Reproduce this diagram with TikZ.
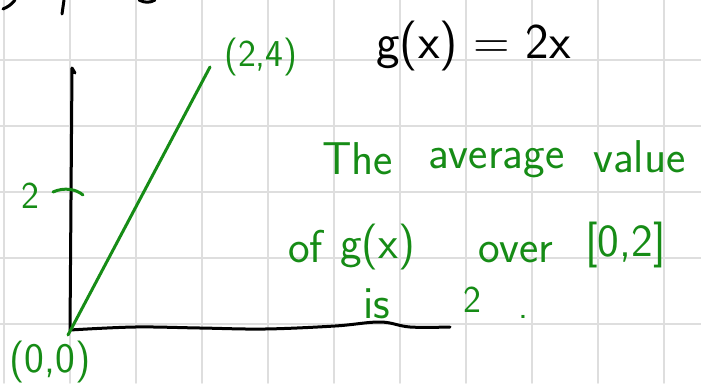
\documentclass[tikz,border=0pt]{standalone}
\usepackage{fontspec}
\definecolor{gridgray}{RGB}{222,222,222}
\definecolor{inkgreen}{RGB}{22,140,22}
\begin{document}
\begin{tikzpicture}[x=1pt,y=-1pt, line cap=round, line join=round,
  grid/.style={draw=gridgray, line width=1.8pt},
  ink/.style={draw=black, line width=3pt},
  gink/.style={draw=inkgreen, line width=3pt},
  hw/.style={inner sep=0pt, anchor=base west, text=inkgreen, font=\sffamily\fontsize{46}{50}\selectfont},
  hwsmall/.style={hw, font=\sffamily\fontsize{38}{42}\selectfont},
]
\useasboundingbox (0,0) rectangle (701,383);
\fill[white] (0,0) rectangle (701,383);
% grid paper
\foreach \x in {4,70,...,664} \draw[grid] (\x,0) -- (\x,383);
\foreach \y in {60,126,...,324} \draw[grid] (0,\y) -- (701,\y);
% cut-off strokes at top edge
\draw[ink] (3,9) .. controls (8,7) and (12,4) .. (15,0);
\draw[ink] (64,0) -- (62,14);
\draw[ink] (139,0) .. controls (145,3) and (150,3) .. (155,0);
% axes
\coordinate (O) at (70,330);
\coordinate (Ytop) at (72,68);
\coordinate (Yhook) at (75,73);
\coordinate (Xend) at (450,327);
\draw[ink] (Yhook) -- (Ytop) .. controls (71,200) .. (O);
\draw[ink] plot[smooth, tension=0.6] coordinates {(O) (135,327) (200,328) (265,329) (335,326) (380,322) (410,327) (Xend)};
% tick at 2
\coordinate (T1) at (53,192);
\coordinate (T2) at (83,195);
\draw[gink] (T1) .. controls (64,187) and (76,189) .. (T2);
\node[hwsmall] (two) at (21,208) {2};
% graph of g(x)=2x
\coordinate (A) at (68,335);
\coordinate (B) at (210,67);
\draw[gink] (A) -- (B);
\node[hwsmall] (p24) at (224,66) {(2,4)};
\node[hwsmall, font=\sffamily\fontsize{42}{46}\selectfont] (p00) at (9,372) {(0,0)};
% formula
\node[hw, text=black, font=\sffamily\fontsize{50}{54}\selectfont] (gx) at (376,58) {g(x) = 2x};
% statement
\node[hw] (w1) at (322,174) {The};
\node[hw] (w2) at (428,168) {average};
\node[hw] (w3) at (593,172) {value};
\node[hw] (w4) at (288,262) {of};
\node[hw] (w5) at (340,258) {g(x)};
\node[hw] (w6) at (478,262) {over};
\node[hw] (w7) at (585,256) {[0,2]};
\node[hw] (w8) at (363,318) {is};
\node[hwsmall] (w9) at (463,312) {2};
\node[hwsmall] (w10) at (518,318) {.};
\end{tikzpicture}
\end{document}
